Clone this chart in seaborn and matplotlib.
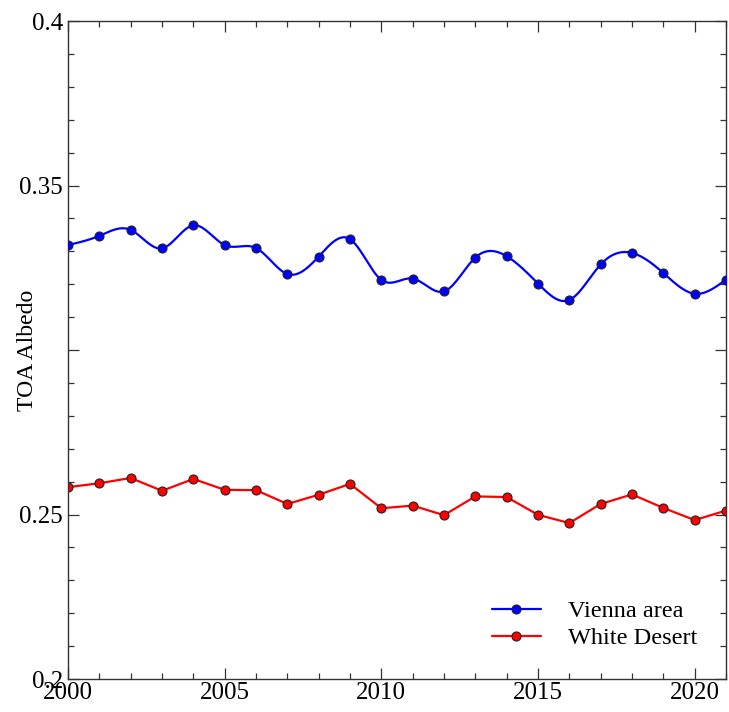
import numpy as np
import pandas as pd
import matplotlib
matplotlib.use("Agg")
import matplotlib.pyplot as plt
from matplotlib.lines import Line2D
from matplotlib.ticker import MultipleLocator
import seaborn as sns

years = list(range(2000, 2022))
vienna = [0.3319, 0.3347, 0.3365, 0.3309, 0.3379, 0.3319, 0.3310, 0.3231, 0.3284, 0.3337,
          0.3213, 0.3217, 0.3178, 0.3281, 0.3285, 0.3202, 0.3152, 0.3260, 0.3295, 0.3234,
          0.3171, 0.3214]
white_desert = [0.2583, 0.2595, 0.2611, 0.2572, 0.2608, 0.2575, 0.2574, 0.2532, 0.2560, 0.2593,
                0.2519, 0.2527, 0.2498, 0.2555, 0.2553, 0.2499, 0.2474, 0.2532, 0.2561, 0.2520,
                0.2483, 0.2512]
series_names = ["Vienna area", "White Desert"]
yticks = [0.2, 0.25, 0.3, 0.35, 0.4]
ytick_labels = ["0.2", "0.25", "", "0.35", "0.4"]
xticks = [2000, 2005, 2010, 2015, 2020]


def natural_spline(x, y, n=600):
    x = np.asarray(x, float)
    y = np.asarray(y, float)
    k = len(x)
    h = np.diff(x)
    A = np.zeros((k, k))
    b = np.zeros(k)
    A[0, 0] = A[-1, -1] = 1
    for i in range(1, k - 1):
        A[i, i - 1] = h[i - 1]
        A[i, i] = 2 * (h[i - 1] + h[i])
        A[i, i + 1] = h[i]
        b[i] = 3 * ((y[i + 1] - y[i]) / h[i] - (y[i] - y[i - 1]) / h[i - 1])
    c = np.linalg.solve(A, b)
    xs = np.linspace(x[0], x[-1], n)
    idx = np.clip(np.searchsorted(x, xs) - 1, 0, k - 2)
    dx = xs - x[idx]
    bi = (y[idx + 1] - y[idx]) / h[idx] - h[idx] * (2 * c[idx] + c[idx + 1]) / 3
    di = (c[idx + 1] - c[idx]) / (3 * h[idx])
    ys = y[idx] + bi * dx + c[idx] * dx ** 2 + di * dx ** 3
    return xs, ys


sns.set_style("ticks")
plt.rcParams["font.family"] = ["Liberation Serif", "DejaVu Serif"]
plt.rcParams["text.color"] = "black"

fig = plt.figure(figsize=(7.29, 7.12), dpi=100)
ax = fig.add_axes([68 / 729, 1 - 679 / 712, 658 / 729, 658 / 712])

df = pd.DataFrame({"year": years, "vienna": vienna, "desert": white_desert})
xs, ys = natural_spline(years, vienna)
smooth = pd.DataFrame({"year": xs, "vienna": ys})

sns.lineplot(data=smooth, x="year", y="vienna", ax=ax, color="#0000ff", lw=1.6)
sns.scatterplot(data=df, x="year", y="vienna", ax=ax, color="#0000ff", s=42,
                edgecolor="#222222", linewidth=0.8, zorder=3)
sns.lineplot(data=df, x="year", y="desert", ax=ax, color="#ff0000", lw=1.6,
             marker="o", markersize=6.5, markerfacecolor="#ff0000",
             markeredgecolor="#222222", markeredgewidth=0.8)

ax.set_xlim(2000, 2021)
ax.set_ylim(0.2, 0.4)
ax.set_xticks(xticks)
ax.set_xticklabels([str(t) for t in xticks])
ax.set_yticks(yticks)
ax.set_yticklabels(ytick_labels)
ax.xaxis.set_minor_locator(MultipleLocator(1))
ax.yaxis.set_minor_locator(MultipleLocator(0.01))
ax.tick_params(which="both", direction="in", top=True, right=True, colors="#333333",
               labelcolor="black", labelsize=18, width=0.9)
ax.tick_params(which="major", length=8)
ax.tick_params(which="minor", length=4)
ax.tick_params(axis="x", pad=2)
for s in ax.spines.values():
    s.set_linewidth(1.0)
    s.set_color("#333333")
ax.set_xlabel("")
ax.set_ylabel("TOA Albedo", fontsize=17, color="black")
ax.yaxis.set_label_coords(-0.046, 0.5)

handles = [
    Line2D([], [], color="#0000ff", lw=1.6, marker="o", markersize=6.5,
           markerfacecolor="#0000ff", markeredgecolor="#222222", markeredgewidth=0.8),
    Line2D([], [], color="#ff0000", lw=1.6, marker="o", markersize=6.5,
           markerfacecolor="#ff0000", markeredgecolor="#222222", markeredgewidth=0.8),
]
leg = ax.legend(handles, series_names, loc="lower right", bbox_to_anchor=(0.989, 0.012),
                frameon=False, fontsize=17.5, handlelength=2.0, handletextpad=1.1,
                labelspacing=0.2)
for t in leg.get_texts():
    t.set_color("black")

fig.savefig("out.png", dpi=100)
